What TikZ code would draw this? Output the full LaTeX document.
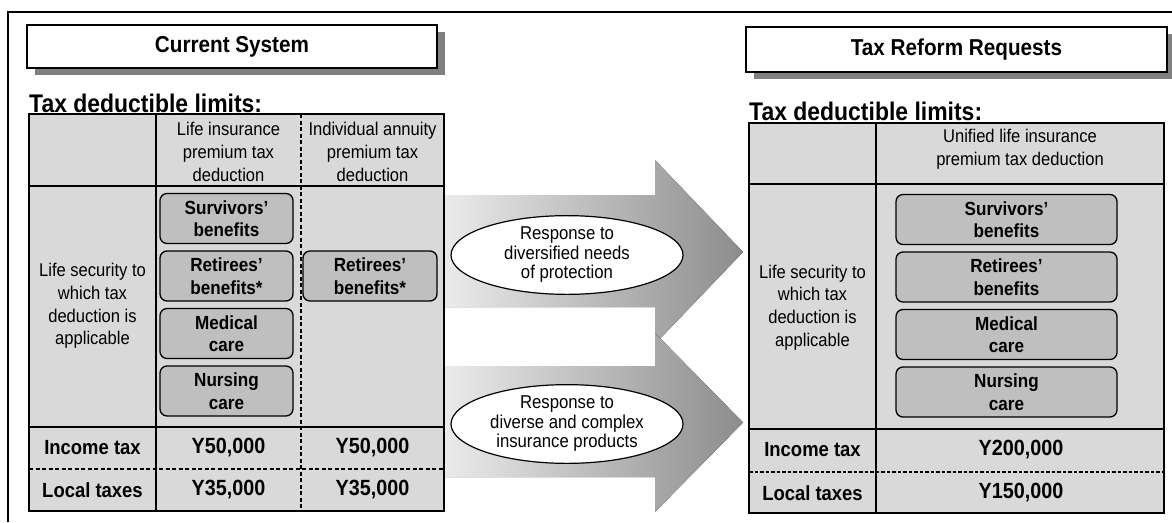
\documentclass[tikz,border=0pt]{standalone}
\usepackage{fontspec}
\setmainfont{Liberation Sans}[FakeStretch=0.9]
\usetikzlibrary{shapes.geometric}
\definecolor{cellgray}{HTML}{D9D9D9}
\definecolor{pillgray}{HTML}{BFBFBF}
\definecolor{shadowgray}{HTML}{808080}

\begin{document}
\begin{tikzpicture}[x=1pt, y=-1pt, node distance=57.5pt,
  title/.style={draw, line width=1.8pt, fill=white, inner sep=0pt, font=\bfseries\fontsize{23}{27}\selectfont,
    preaction={draw=none, fill=shadowgray, transform canvas={shift={(8pt,-7pt)}}}},
  pill/.style={draw, line width=1.3pt, rounded corners=7pt, fill=pillgray, minimum height=50, inner sep=0pt, align=center, font=\bfseries\fontsize{19}{22.5}\selectfont},
  cell/.style={align=center, inner sep=0pt, font=\fontsize{18.4}{22.7}\selectfont},
  rowlabel/.style={inner sep=0pt, font=\bfseries\fontsize{20.5}{24}\selectfont},
  limit/.style={inner sep=0pt, font=\bfseries\fontsize{22}{26}\selectfont},
  heading/.style={anchor=base west, inner sep=0pt, font=\bfseries\fontsize{25.5}{30}\selectfont},
  bubble/.style={ellipse, draw, line width=1.2pt, fill=white, minimum width=232, minimum height=77, inner sep=0pt, align=center, font=\fontsize{18.6}{19.5}\selectfont},
  grid/.style={line width=2pt},
  dots/.style={line width=2.2pt, dash pattern=on 4pt off 2.5pt},
  dashes/.style={line width=1.3pt, dash pattern=on 3.5pt off 2pt},
  bigarrow/.style={left color=black!8, right color=black!45}]

  \useasboundingbox (0,0) rectangle (1172,522);

  % Frame
  \draw[line width=2pt] (8,522) -- (8,12) -- (1172,12);

  % Titles
  \node[title, minimum width=410, minimum height=43] (T1) at (232,46.5) {Current System};
  \node[title, minimum width=421, minimum height=45] (T2) at (956.5,49.5) {Tax Reform Requests};

  % Arrows
  \fill[bigarrow] (445,195) -- (655,195) -- (655,160) -- (743,252) -- (655,344) -- (655,307) -- (445,307) -- cycle;
  \fill[bigarrow] (445,366) -- (655,366) -- (655,333) -- (743,422.5) -- (655,512) -- (655,477) -- (445,477) -- cycle;
  \node[bubble] (E1) at (567,255) {Response to\\diversified needs\\of protection};
  \node[bubble] (E2) at (567,424) {Response to\\diverse and complex\\insurance products};

  % Current system table
  \node[heading] (LH) at (29,112) {Tax deductible limits:};
  \draw[grid, fill=cellgray] (29,114) rectangle (444,511);
  \draw[grid] (29,186) -- (444,186);
  \draw[grid] (29,427) -- (444,427);
  \draw[grid] (156,114) -- (156,511);
  \draw[dots] (301,114) -- (301,511);
  \draw[dots] (29,469) -- (444,469);

  \node[cell] (L2h) at (228.5,152) {Life insurance\\premium tax\\deduction};
  \node[cell] (L3h) at (372.5,152) {Individual annuity\\premium tax\\deduction};
  \node[cell] (L1b) at (92.5,306) {Life security to\\which tax\\deduction is\\applicable};

  \node[pill, minimum width=133] (L1) at (226.5,218.5) {Survivors'\\benefits};
  \node[pill, minimum width=133, below of=L1] (L2) {Retirees'\\benefits*};
  \node[pill, minimum width=133, below of=L2] (L3) {Medical\\care};
  \node[pill, minimum width=133, below of=L3] (L4) {Nursing\\care};
  \node[pill, minimum width=134, right of=L2, node distance=143.5pt] (L5) {Retirees'\\benefits*};

  \node[rowlabel] (Linc) at (92.5,448) {Income tax};
  \node[rowlabel] (Lloc) at (92.5,490) {Local taxes};
  \node[limit] (Linc2) at (228.5,448) {Y50,000};
  \node[limit] (Linc3) at (372.5,448) {Y50,000};
  \node[limit] (Lloc2) at (228.5,490) {Y35,000};
  \node[limit] (Lloc3) at (372.5,490) {Y35,000};

  % Tax reform table
  \node[heading] (RH) at (749,120) {Tax deductible limits:};
  \draw[grid, fill=cellgray] (749,123) rectangle (1164,513);
  \draw[grid] (749,184) -- (1164,184);
  \draw[grid] (749,429) -- (1164,429);
  \draw[grid] (876,123) -- (876,513);
  \draw[dashes] (749,472) -- (1164,472);

  \node[cell] (R2h) at (1020,149) {Unified life insurance\\premium tax deduction};
  \node[cell] (R1b) at (812.5,307.5) {Life security to\\which tax\\deduction is\\applicable};

  \node[pill, minimum width=221] (R1) at (1006.5,219.5) {Survivors'\\benefits};
  \node[pill, minimum width=221, below of=R1] (R2) {Retirees'\\benefits};
  \node[pill, minimum width=221, below of=R2] (R3) {Medical\\care};
  \node[pill, minimum width=221, below of=R3] (R4) {Nursing\\care};

  \node[rowlabel] (Rinc) at (812.5,450) {Income tax};
  \node[rowlabel] (Rloc) at (812.5,493) {Local taxes};
  \node[limit] (Rinc2) at (1021,450) {Y200,000};
  \node[limit] (Rloc2) at (1021,493) {Y150,000};

\end{tikzpicture}
\end{document}
